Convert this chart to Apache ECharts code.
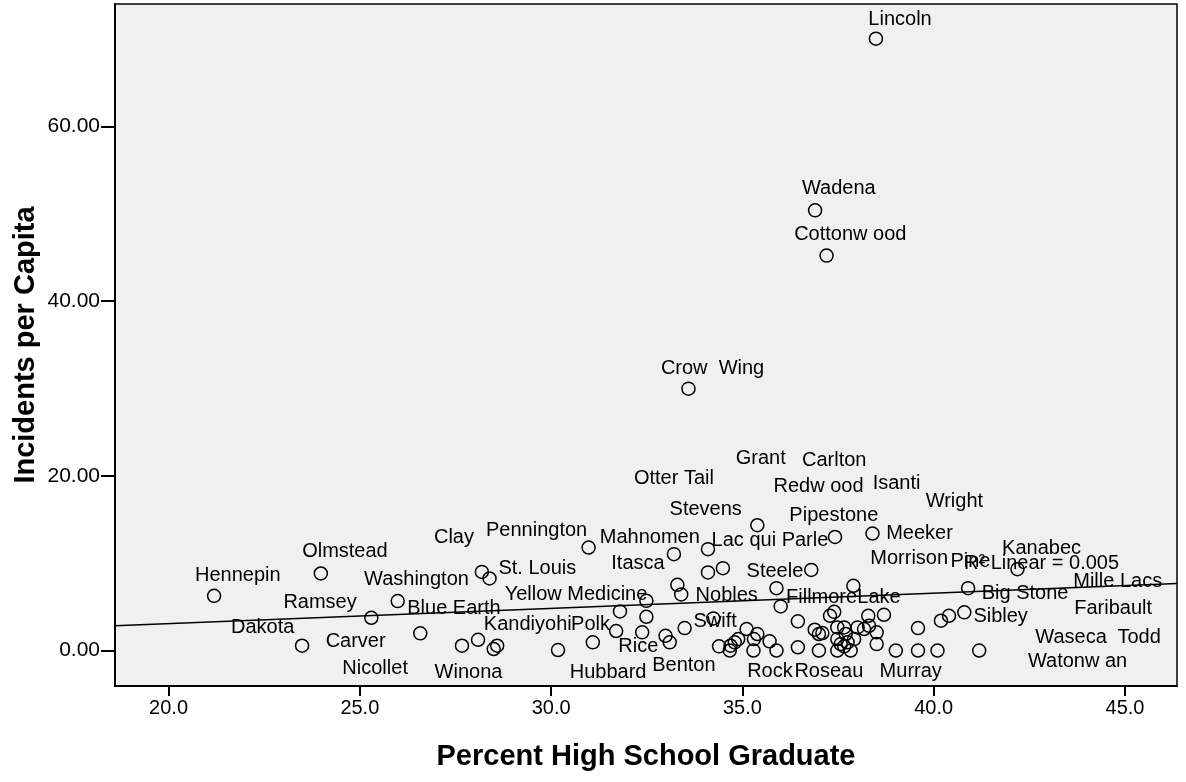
<!DOCTYPE html>
<html>
<head>
<meta charset="utf-8">
<script src="https://cdn.jsdelivr.net/npm/echarts@6/dist/echarts.min.js"></script>
<style>
  html, body { margin: 0; padding: 0; background: #fff; }
  #chart { width: 1186px; height: 782px; }
</style>
</head>
<body>
<div id="chart"></div>
<script>
// percent high school graduate (x) and incidents per capita (y), one entry per county marker
const pctGrad = [
  38.49, 36.90, 37.20, 33.59, 35.39, 37.42, 38.40, 33.21, 34.10, 21.19,
  23.98, 25.30, 25.99, 23.49, 26.58, 27.67, 28.09, 28.19, 28.39, 28.50,
  28.59, 30.18, 30.98, 31.09, 31.80, 31.70, 32.49, 32.49, 32.38, 33.30,
  33.40, 32.99, 33.10, 33.49, 34.24, 36.00, 35.89, 34.39, 34.67, 34.69,
  34.80, 34.89, 35.11, 35.39, 35.30, 35.29, 35.71, 35.89, 36.45, 36.45,
  36.80, 37.90, 36.89, 37.00, 37.09, 37.00, 37.29, 37.40, 37.48, 37.48,
  37.48, 37.66, 37.70, 37.57, 37.66, 37.75, 37.83, 37.92, 38.01, 38.18,
  38.29, 38.31, 38.51, 38.51, 38.70, 39.01, 39.59, 39.59, 40.10, 40.19,
  40.40, 40.80, 40.90, 41.19, 42.19, 34.10, 34.49
];
const incidents = [
  70.03, 50.38, 45.20, 29.97, 14.34, 13.00, 13.39, 11.03, 11.60, 6.26,
  8.82, 3.75, 5.66, 0.55, 1.97, 0.55, 1.23, 9.00, 8.25, 0.17,
  0.55, 0.06, 11.79, 0.94, 4.48, 2.23, 5.69, 3.86, 2.08, 7.52,
  6.42, 1.69, 0.94, 2.57, 3.68, 5.05, 7.14, 0.48, 0.00, 0.55,
  0.94, 1.31, 2.46, 1.89, 1.31, 0.00, 1.05, 0.00, 3.34, 0.37,
  9.23, 7.41, 2.38, 1.89, 2.00, 0.00, 3.98, 4.43, 2.65, 1.31,
  0.00, 2.65, 1.89, 0.74, 0.48, 0.94, 0.00, 1.31, 2.65, 2.46,
  3.98, 2.83, 2.08, 0.74, 4.09, 0.00, 2.57, 0.00, 0.00, 3.41,
  3.98, 4.37, 7.14, 0.00, 9.31, 8.94, 9.43
];

// county name labels, placed where the chart draws them (data units)
const labelNames = [
  "Lincoln", "Wadena", "Cottonw ood", "Crow  Wing", "Hennepin", "Olmstead", "Clay",
  "Washington", "Ramsey", "Blue Earth", "Dakota", "Carver", "Nicollet", "Winona",
  "Pennington", "St. Louis", "Yellow Medicine", "Kandiyohi", "Polk", "Rice", "Hubbard",
  "Benton", "Mahnomen", "Itasca", "Otter Tail", "Grant", "Stevens", "Lac qui Parle",
  "Nobles", "Swift", "Steele", "Rock", "Roseau", "Redw ood", "Carlton", "Pipestone",
  "Fillmore", "Lake", "Isanti", "Wright", "Meeker", "Morrison", "Pine", "Kanabec",
  "Mille Lacs", "Big Stone", "Sibley", "Faribault", "Waseca", "Todd", "Watonw an", "Murray"
];
const labelX = [
  39.12, 37.52, 37.82, 34.22, 21.81, 24.61, 27.46,
  26.48, 23.96, 27.46, 22.46, 24.89, 25.40, 27.84,
  29.62, 29.64, 30.65, 29.39, 31.03, 32.28, 31.49,
  33.47, 32.58, 32.27, 33.21, 35.48, 34.04, 35.72,
  34.59, 34.29, 35.85, 35.72, 37.26, 36.99, 37.40, 37.39,
  37.07, 38.57, 39.03, 40.54, 39.63, 39.36, 40.96, 42.82,
  44.81, 42.39, 41.75, 44.69, 43.59, 45.37, 43.76, 39.40
];
const labelY = [
  72.42, 53.06, 47.85, 32.55, 8.83, 11.51, 13.12,
  8.32, 5.75, 5.03, 2.82, 1.29, -1.83, -2.26,
  13.94, 9.57, 6.65, 3.20, 3.20, 0.65, -2.26,
  -1.52, 13.22, 10.23, 19.92, 22.25, 16.34, 12.83,
  6.55, 3.51, 9.29, -2.21, -2.21, 19.03, 21.94, 15.74,
  6.34, 6.34, 19.31, 17.31, 13.60, 10.74, 10.37, 11.89,
  8.11, 6.80, 4.11, 5.03, 1.74, 1.74, -1.06, -2.14
];

// fit line end points and its label
const fitX = [18.6, 46.36];
const fitY = [2.83, 7.68];
const fitLabel = "R\u00B2 Linear = 0.005";
const fitLabelX = 42.82;
const fitLabelY = 10.21;

const xTicks = [20, 25, 30, 35, 40, 45];
const yTicks = [0, 20, 40, 60];
const xRange = [18.6, 46.36];
const yRange = [-4.06, 74.0];

const FONT = "Liberation Sans, Arial, sans-serif";

const chart = echarts.init(document.getElementById("chart"), null, { renderer: "canvas" });

const points = pctGrad.map((x, i) => [x, incidents[i]]);
const labels = labelNames.map((name, i) => [labelX[i], labelY[i], name]);

const textLabel = {
  show: true,
  position: "inside",
  offset: [0, 2],
  formatter: (p) => p.data[2],
  color: "#000",
  opacity: 1,
  textBorderWidth: 0,
  textBorderColor: "transparent",
  fontSize: 20,
  fontFamily: FONT
};

chart.setOption({
  animation: false,
  backgroundColor: "#ffffff",
  textStyle: { fontFamily: FONT },
  grid: {
    left: 115, right: 9, top: 4, bottom: 96,
    containLabel: false,
    outerBoundsMode: "none",
    show: true,
    backgroundColor: "#f0f0f0",
    borderColor: "#000",
    borderWidth: 1.5
  },
  xAxis: {
    type: "value",
    min: xRange[0], max: xRange[1],
    name: "Percent High School Graduate",
    nameLocation: "middle",
    nameGap: 56,
    nameTextStyle: { fontSize: 29, fontWeight: "bold", color: "#000", fontFamily: FONT },
    axisLine: { show: true, onZero: false, lineStyle: { color: "#000", width: 2 } },
    axisTick: { show: true, inside: false, length: 10, lineStyle: { color: "#000", width: 2 }, customValues: xTicks },
    axisLabel: { color: "#000", fontSize: 20, margin: 12, customValues: xTicks, formatter: (v) => v.toFixed(1) },
    splitLine: { show: false }
  },
  yAxis: {
    type: "value",
    min: yRange[0], max: yRange[1],
    name: "Incidents per Capita",
    nameLocation: "middle",
    nameGap: 75,
    nameMoveOverlap: false,
    nameTextStyle: { fontSize: 29, fontWeight: "bold", color: "#000", fontFamily: FONT },
    axisLine: { show: true, onZero: false, lineStyle: { color: "#000", width: 2 } },
    axisTick: { show: true, inside: false, length: 14, lineStyle: { color: "#000", width: 2 }, customValues: yTicks },
    axisLabel: { color: "#000", fontSize: 21, margin: 15, customValues: yTicks, formatter: (v) => v.toFixed(2) },
    splitLine: { show: false }
  },
  series: [
    {
      name: "fit",
      type: "line",
      silent: true,
      showSymbol: false,
      data: fitX.map((x, i) => [x, fitY[i]]),
      lineStyle: { color: "#000", width: 1.5 },
      z: 2
    },
    {
      name: "names",
      type: "scatter",
      silent: true,
      symbolSize: 0,
      itemStyle: { color: "#000" },
      data: labels,
      label: textLabel,
      z: 3
    },
    {
      name: "fitLabel",
      type: "scatter",
      silent: true,
      symbolSize: 0,
      itemStyle: { color: "#000" },
      data: [[fitLabelX, fitLabelY, fitLabel]],
      label: textLabel,
      z: 3
    },
    {
      name: "counties",
      type: "scatter",
      silent: true,
      symbol: "circle",
      symbolSize: 13,
      data: points,
      itemStyle: { color: "rgba(0,0,0,0)", borderColor: "#000", borderWidth: 1.5, opacity: 1 },
      z: 4
    }
  ]
});
</script>
</body>
</html>
